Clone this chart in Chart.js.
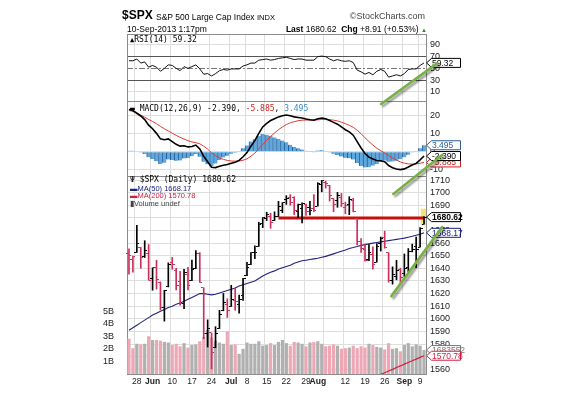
<!DOCTYPE html>
<html><head><meta charset="utf-8">
<script src="https://cdn.jsdelivr.net/npm/chart.js@4.4.0/dist/chart.umd.min.js"></script>
<style>
html,body{margin:0;padding:0;background:#fff;overflow:hidden;}
#wrap{position:relative;width:569px;height:398px;overflow:hidden;font-family:"Liberation Sans",Arial,sans-serif;}
#c{position:absolute;left:0;top:0;}
.t{position:absolute;white-space:nowrap;line-height:1;color:#000;}
.m{font-family:"DejaVu Sans Mono",monospace;font-size:8px;}
</style></head><body>
<div id="wrap">
<canvas id="c" width="569" height="398"></canvas>
<div class="t" style="left:122px;top:9px;font-size:12px;font-weight:bold;">$SPX</div>
<div class="t" style="left:156px;top:12.5px;font-size:8.5px;">S&amp;P 500 Large Cap Index</div>
<div class="t" style="left:257px;top:13.5px;font-size:7.5px;">INDX</div>
<div class="t" style="right:144px;top:12px;font-size:9px;color:#444;">©StockCharts.com</div>
<div class="t" style="left:127px;top:25px;font-size:8.5px;">10-Sep-2013 1:17pm</div>
<div class="t" style="right:142px;top:24.5px;font-size:8.5px;"><b>Last</b> 1680.62 &nbsp;<b>Chg</b> +8.91 (+0.53%) <span style="color:#2a8a2a;font-size:6px;">▲</span></div>
<div class="t m" style="left:130px;top:36px;"><span style="font-size:7px;">▲</span>RSI(14) 59.32</div>
<div class="t m" style="left:130px;top:105px;"><span style="font-weight:bold;">▬</span> MACD(12,26,9) -2.390, <span style="color:#d02020;">-5.885</span>, <span style="color:#3a8ac8;">3.495</span></div>
<div class="t m" style="left:130px;top:176px;">Ψ $SPX (Daily) 1680.62</div>
<div class="t" style="left:130px;top:184.5px;font-size:7.5px;color:#1a237e;">▬MA(50) 1668.17</div>
<div class="t" style="left:130px;top:192px;font-size:7.5px;color:#d02040;">▬MA(200) 1570.78</div>
<div class="t" style="left:130px;top:200px;font-size:7.5px;color:#444;">▮Volume undef</div>
</div>
<script>
const dates = ['May 23','May 24','May 28','May 29','May 30','May 31',
 'Jun 3','Jun 4','Jun 5','Jun 6','Jun 7','Jun 10','Jun 11','Jun 12','Jun 13','Jun 14','Jun 17','Jun 18','Jun 19','Jun 20','Jun 21','Jun 24','Jun 25','Jun 26','Jun 27','Jun 28',
 'Jul 1','Jul 2','Jul 3','Jul 5','Jul 8','Jul 9','Jul 10','Jul 11','Jul 12','Jul 15','Jul 16','Jul 17','Jul 18','Jul 19','Jul 22','Jul 23','Jul 24','Jul 25','Jul 26','Jul 29','Jul 30','Jul 31',
 'Aug 1','Aug 2','Aug 5','Aug 6','Aug 7','Aug 8','Aug 9','Aug 12','Aug 13','Aug 14','Aug 15','Aug 16','Aug 19','Aug 20','Aug 21','Aug 22','Aug 23','Aug 26','Aug 27','Aug 28','Aug 29','Aug 30',
 'Sep 3','Sep 4','Sep 5','Sep 6','Sep 9','Sep 10'];

const tickIdx  = [2,6,11,16,21,26,30,35,40,45,48,55,60,65,70,74];
const tickText = ['28','Jun','10','17','24','Jul','8','15','22','29','Aug','12','19','26','Sep','9'];
const monthTicks = ['Jun','Jul','Aug','Sep'];
const gridIdx  = [2,6,11,16,21,26,30,35,40,45,50,55,60,65,70,74];

const prevClose = 1655.4;
const open = [1651.6,1646.7,1652.6,1656.6,1649.1,1652.1,1631.7,1640.7,1629.1,1609.0,
 1625.3,1644.7,1638.6,1629.9,1612.2,1635.5,1630.6,1639.8,1651.8,1624.6,
 1588.6,1588.8,1577.5,1592.3,1606.4,1611.1,1609.8,1614.3,1611.5,1618.7,
 1634.2,1642.9,1652.3,1657.4,1675.3,1679.6,1681.1,1677.9,1681.1,1686.2,
 1694.4,1696.1,1696.1,1685.2,1687.3,1690.3,1687.9,1687.8,1689.4,1706.1,
 1708.0,1705.8,1695.3,1693.4,1696.1,1688.4,1690.7,1693.9,1679.6,1661.2,
 1655.3,1646.8,1650.7,1645.0,1659.9,1664.3,1652.5,1630.3,1633.5,1638.9,
 1635.9,1640.7,1653.3,1657.4,1656.9,1675.1];
const high = [1655.5,1649.8,1674.2,1656.6,1661.9,1658.9,1640.4,1646.5,1629.3,1622.6,
 1644.4,1648.7,1640.1,1637.7,1639.3,1640.8,1646.5,1654.2,1652.5,1624.6,
 1599.2,1588.8,1593.8,1606.8,1620.1,1615.9,1626.6,1624.3,1618.9,1632.1,
 1644.7,1652.6,1657.9,1676.6,1680.2,1684.5,1683.7,1684.8,1693.1,1692.1,
 1697.6,1698.4,1696.8,1690.9,1691.9,1690.9,1693.2,1698.4,1707.9,1709.7,
 1709.2,1705.8,1695.3,1700.2,1699.4,1692.5,1696.8,1695.5,1679.6,1663.6,
 1659.2,1658.9,1657.0,1659.6,1664.9,1669.5,1652.5,1641.2,1646.4,1640.1,
 1651.4,1655.7,1659.2,1664.8,1672.4,1681.0];
const low = [1635.5,1636.9,1652.6,1640.1,1648.6,1630.7,1622.7,1623.6,1607.1,1598.2,
 1625.3,1639.3,1622.9,1610.9,1608.1,1623.0,1630.3,1639.8,1628.9,1584.3,
 1577.7,1560.3,1577.1,1592.3,1606.4,1601.1,1609.8,1606.8,1604.6,1614.7,
 1634.2,1642.9,1647.7,1657.4,1672.3,1677.9,1671.8,1677.9,1681.1,1684.1,
 1690.7,1690.1,1682.6,1680.2,1676.0,1681.9,1682.4,1684.9,1689.4,1700.7,
 1703.6,1693.3,1684.9,1688.4,1689.0,1683.2,1682.6,1684.8,1658.6,1652.6,
 1645.8,1646.1,1639.4,1645.0,1653.7,1656.0,1629.1,1627.5,1630.9,1628.1,
 1633.4,1637.4,1653.1,1640.6,1656.9,1675.1];
const close = [1650.5,1649.6,1660.1,1648.4,1654.4,1630.7,1640.4,1631.4,1608.9,1622.6,
 1643.4,1642.8,1626.1,1612.5,1636.4,1626.7,1639.0,1651.8,1628.9,1588.2,
 1592.4,1573.1,1588.0,1603.3,1613.2,1606.3,1615.0,1614.1,1615.4,1631.9,
 1640.5,1652.3,1652.6,1675.0,1680.2,1682.5,1676.3,1680.9,1689.4,1692.1,
 1695.5,1692.4,1685.9,1690.3,1691.7,1685.3,1686.0,1685.7,1706.9,1709.7,
 1707.1,1697.4,1690.9,1697.5,1691.4,1689.5,1694.2,1685.4,1661.3,1655.8,
 1646.1,1652.4,1642.8,1657.0,1663.5,1656.8,1630.5,1635.0,1638.2,1633.0,
 1639.8,1653.1,1655.1,1655.2,1671.7,1680.62];
const volume = [2.8,2.05,2.4,2.35,2.4,3.0,2.7,2.7,2.65,2.55,
 2.5,2.3,2.4,2.2,2.45,2.1,2.3,2.35,2.6,2.95,
 3.5,2.9,2.65,2.5,2.4,3.4,2.3,2.35,1.6,2.0,
 2.5,2.4,2.4,2.6,2.25,2.3,2.45,2.3,2.55,2.7,
 2.45,2.25,2.55,2.5,2.4,2.2,2.5,2.55,2.6,2.4,
 2.2,2.25,2.35,2.25,2.0,2.05,2.1,2.25,2.05,2.2,
 2.1,2.4,2.3,2.15,2.1,1.95,2.45,2.0,2.05,1.8,
 2.3,2.45,2.2,2.35,2.25,1.9];
const ma50 = [1591,1593,1595,1597,1599,1601,1603,1604.5,1606,1607.5,
 1609,1610,1611.5,1612.6,1614,1615.5,1617,1618.5,1620,1620,
 1619.5,1619,1619.5,1620.5,1621.5,1622.5,1623.5,1624.5,1626,1627,
 1628,1629,1630,1632,1634,1635.5,1637,1638,1639.5,1640.5,
 1641.5,1642.5,1644,1645,1646,1646.5,1647,1647.5,1648,1648.8,
 1649.5,1650.5,1651.5,1652.5,1653.5,1654.5,1655.8,1656.5,1657.3,1658.2,
 1658.8,1659.4,1660,1660.5,1661,1661.5,1662,1662.5,1663,1663.5,
 1664,1664.7,1665.4,1666.2,1667,1668.17];
const ma200 = [null,null,null,null,null,null,null,null,null,null,
 null,null,null,null,null,null,null,null,null,null,
 null,null,null,null,null,null,null,null,null,null,
 null,null,null,null,null,null,null,null,null,null,
 null,null,null,null,null,null,null,null,null,null,
 null,null,null,null,null,null,null,null,null,null,
 null,null,1553.3,1554.6,1556,1557.3,1558.7,1560,1561.4,1562.7,
 1564.1,1565.4,1566.8,1568.1,1569.5,1570.78];
const rsi = [63,63,66,59,61,52,55,52,45,50,
 56,55,50,46,53,50,53,56,49,40,
 41,37,41,46,48,47,49,49,49,54,
 56,59,59,64,65,66,64,65,67,68,
 69,67,65,66,66,64,64,64,70,71,
 70,66,63,65,63,62,63,60,47,44,
 40,43,39,45,48,45,35,37,39,37,
 41,48,49,49,55,59.32];
const macd = [23,22.5,21,19.5,17.5,14.5,12.5,10,7,6.5,
 7,5.5,4,3,3.2,2.6,2.8,3.6,1.5,-2.5,
 -5.5,-8.5,-8.7,-8,-7.4,-7,-6.3,-5.8,-4.8,-2.8,
 -0.5,3,6,10,13.5,15.5,17,18,19,19.6,
 20,19.6,19,18.7,18.4,17.8,17.4,17.2,18,18.4,
 18,17,16,15,13.5,12,10.8,9,5.5,2,
 -1,-3,-4,-4.8,-5,-5.5,-7.6,-8.8,-9.5,-9.8,
 -9.4,-8.4,-7.3,-6.4,-4.5,-2.39];
const signal = [22.5,22,21,20,18.8,17.6,16.5,15.3,13.8,12.5,
 11.3,10.1,8.9,7.8,6.9,6,5.3,4.9,4.3,3,
 1.4,-0.6,-2.2,-3.4,-4.2,-4.8,-5.1,-5.2,-5.1,-4.7,
 -3.9,-2.5,-0.8,1.5,3.9,6.2,8.3,10.2,12,13.5,
 14.8,15.8,16.4,16.9,17.2,17.3,17.3,17.3,17.4,17.6,
 17.7,17.5,17.2,16.8,16.1,15.3,14.4,13.3,11.7,9.8,
 7.6,5.5,3.6,1.9,0.5,-0.7,-2.1,-3.4,-4.6,-5.6,
 -6.3,-6.7,-6.8,-6.7,-6.3,-5.885];
const hist = [0.5,0.5,0,-0.5,-1.3,-3.1,-4,-5.3,-6.8,-6,
 -4.3,-4.6,-4.9,-4.8,-3.7,-3.4,-2.5,-1.3,-2.8,-5.5,
 -6.9,-7.9,-6.5,-4.6,-3.2,-2.2,-1.2,-0.6,0.3,1.9,
 3.4,5.5,6.8,8.5,9.6,9.3,8.7,7.8,7,6.1,
 5.2,3.8,2.6,1.8,1.2,0.5,0.1,-0.1,0.6,0.8,
 0.3,-0.5,-1.2,-1.8,-2.6,-3.3,-3.6,-4.3,-6.2,-7.8,
 -8.6,-8.5,-7.6,-6.7,-5.5,-4.8,-5.5,-5.4,-4.9,-4.2,
 -3.1,-1.7,-0.5,0.3,1.8,3.495];

const rsiTicks = [10,30,50,70,90];
const macdTicks = [-10,0,10,20];
const priceTicks = [1560,1570,1580,1590,1600,1610,1620,1630,1640,1650,1660,1670,1680,1690,1700,1710];
const volTicks = [1,2,3,4,5];

const supportLevel = 1680;
const supportStart = 38;
const lastVolumeText = '1683552';

// hand-drawn green trend annotations, in data units (index, value)
const trendLines = [
  {axis:'rsi',   x0:64.1, y0:-11,    x1:78.4, y1:59},
  {axis:'price', x0:67.2, y0:1699,   x1:79.6, y1:1729.8},
  {axis:'price', x0:66.7, y0:1618,   x1:79.6, y1:1672.7}
];

const UP='#000000', DOWN='#cc2f5c', VUP='#b0b0b0', VDOWN='#eca9b5';
const isUp = close.map((c,i)=> c >= (i===0 ? prevClose : close[i-1]));
const n = dates.length;
const last = n-1;

function tickImg(color, side){
  const c=document.createElement('canvas'); c.width=5; c.height=1;
  const g=c.getContext('2d'); g.fillStyle=color;
  if(side==='L') g.fillRect(0,0,2,1); else g.fillRect(3,0,2,1);
  return c;
}
const imgs = {OL_up:tickImg(UP,'L'),OL_dn:tickImg(DOWN,'L'),CR_up:tickImg(UP,'R'),CR_dn:tickImg(DOWN,'R')};

const tags = [
  {axis:'rsi',   value:rsi[last],    text:String(rsi[last]),        color:'#000'},
  {axis:'macd',  value:hist[last],   text:hist[last].toFixed(3),    color:'#2a5d95'},
  {axis:'macd',  value:signal[last], text:signal[last].toFixed(3),  color:'#d02020'},
  {axis:'macd',  value:macd[last],   text:macd[last].toFixed(3),    color:'#000'},
  {axis:'price', value:close[last],  text:close[last].toFixed(2),   color:'#000', bold:true},
  {axis:'price', value:ma50[last],   text:ma50[last].toFixed(2),    color:'#1a237e'},
  {axis:'vol',   value:volume[last], text:lastVolumeText,           color:'#777'},
  {axis:'price', value:ma200[last],  text:ma200[last].toFixed(2),   color:'#d02040'}
];

const overlay = {
  id:'overlay',
  afterDraw(chart){
    const g=chart.ctx, a=chart.chartArea, S=chart.scales;
    g.save();
    for(const t of tags){
      const y=S[t.axis].getPixelForValue(t.value);
      const x0=a.right+0.5, w=34, h=9;
      g.beginPath();
      g.moveTo(x0,y); g.lineTo(x0+5,y-h/2); g.lineTo(x0+w,y-h/2); g.lineTo(x0+w,y+h/2); g.lineTo(x0+5,y+h/2); g.closePath();
      g.fillStyle='#fff'; g.fill(); g.lineWidth=1; g.strokeStyle=t.color; g.stroke();
      g.fillStyle=t.color; g.font=(t.bold?'bold ':'')+'8.5px "Liberation Sans", Arial, sans-serif';
      g.textAlign='left'; g.textBaseline='middle'; g.fillText(t.text,x0+5.5,y+0.5);
    }
    g.restore();
    g.save();
    g.lineCap='round'; g.strokeStyle='#78b043'; g.lineWidth=2.6;
    g.shadowColor='rgba(0,0,0,0.4)'; g.shadowOffsetX=2; g.shadowOffsetY=2; g.shadowBlur=2;
    for(const L of trendLines){
      const ys=S[L.axis];
      g.beginPath();
      g.moveTo(S.x.getPixelForValue(L.x0), ys.getPixelForValue(L.y0));
      g.lineTo(S.x.getPixelForValue(L.x1), ys.getPixelForValue(L.y1));
      g.stroke();
    }
    g.restore();
  }
};

Chart.defaults.font.family='"Liberation Sans", Arial, sans-serif';
Chart.defaults.font.size=9;
Chart.defaults.color='#333';

function yAxis(min,max,list,weight){
  return {
    type:'linear', position:'right', stack:'panels', stackWeight:weight, min:min, max:max,
    afterBuildTicks:s=>{ s.ticks=[{value:min}].concat(list.map(v=>({value:v})),[{value:max}]); },
    afterFit:s=>{ s.width=143; },
    grid:{drawTicks:false, color:c=>(c.tick&&(c.tick.value===min||c.tick.value===max))?'#8c8c8c':'#dedede'},
    border:{display:true,color:'#8c8c8c'},
    ticks:{autoSkip:false, padding:4,color:'#222',callback:v=>(v===min||v===max)?'':String(v)}
  };
}

const rsiAxis = yAxis(-7.1,108.8,rsiTicks,67.7);
rsiAxis.grid.color = c=>{ if(!c.tick) return '#dedede'; const v=c.tick.value;
  if(v===-7.1||v===108.8) return '#8c8c8c'; if(v===30||v===70) return '#555'; if(v===50) return '#777'; return '#dedede'; };
rsiAxis.border.dash = c=> (c.tick && c.tick.value===50) ? [6,2,2,2] : [];

new Chart(document.getElementById('c'),{
  type:'bar',
  data:{labels:dates, datasets:[
    {type:'bar', label:'Highlight', yAxisID:'price', grouped:false, order:30,
     data:dates.map((d,i)=> i===last ? [low[last]-0.6, high[last]+6] : null),
     backgroundColor:'rgba(245,222,100,0.85)', barThickness:6},
    {type:'bar', label:'Volume', yAxisID:'vol', grouped:false, order:20, data:volume,
     backgroundColor:isUp.map(u=>u?VUP:VDOWN), barPercentage:0.82, categoryPercentage:1},
    {type:'bar', label:'Hist', yAxisID:'macd', grouped:false, order:15, data:hist,
     backgroundColor:'#5fa8de', borderColor:'#215f9e', borderWidth:{left:1,right:0,top:0,bottom:0},
     barPercentage:1, categoryPercentage:1},
    {type:'line', label:'MA200', yAxisID:'price', order:9, data:ma200, borderColor:'#d02040', borderWidth:1.2, pointRadius:0},
    {type:'line', label:'MA50', yAxisID:'price', order:8, data:ma50, borderColor:'#23237a', borderWidth:1.1, pointRadius:0},
    {type:'line', label:'Support', yAxisID:'price', order:7, data:dates.map((d,i)=> i>=supportStart ? supportLevel : null),
     borderColor:'#c40f0f', borderWidth:3, pointRadius:0},
    {type:'bar', label:'Range', yAxisID:'price', grouped:false, order:5,
     data:low.map((l,i)=>[l,high[i]]), backgroundColor:isUp.map(u=>u?UP:DOWN), barThickness:1},
    {type:'line', label:'Open', yAxisID:'price', order:4, data:open, showLine:false, pointRadius:2,
     pointStyle:c=> isUp[c.dataIndex]?imgs.OL_up:imgs.OL_dn},
    {type:'line', label:'Close', yAxisID:'price', order:4, data:close, showLine:false, pointRadius:2,
     pointStyle:c=> isUp[c.dataIndex]?imgs.CR_up:imgs.CR_dn},
    {type:'line', label:'Signal', yAxisID:'macd', order:3, data:signal, borderColor:'#e03a30', borderWidth:1, pointRadius:0},
    {type:'line', label:'MACD', yAxisID:'macd', order:2, data:macd, borderColor:'#000', borderWidth:1.6, pointRadius:0},
    {type:'line', label:'RSI', yAxisID:'rsi', order:2, data:rsi, borderColor:'#111', borderWidth:1, pointRadius:0}
  ]},
  options:{
    responsive:false, animation:false, events:[],
    layout:{padding:{top:34,left:0,right:0,bottom:0}},
    plugins:{legend:{display:false}, tooltip:{enabled:false}},
    scales:{
      x:{type:'category', offset:true,
        afterFit:s=>{ s.height=24; },
        grid:{offset:true, drawTicks:false, color:c=> gridIdx.includes(c.index)?'#dedede':'rgba(0,0,0,0)'},
        border:{display:true,color:'#8c8c8c'},
        ticks:{autoSkip:false, maxRotation:0, minRotation:0, padding:3, color:'#222',
          font:c=>{ const k=tickIdx.indexOf(c.index); const t=k>=0?tickText[k]:''; return {size:8.5, weight: monthTicks.includes(t)?'bold':'normal'}; },
          callback:(v,i)=>{ const k=tickIdx.indexOf(i); return k>=0?tickText[k]:''; }}
      },
      vol:{type:'linear', position:'left', min:0, max:27,
        afterBuildTicks:s=>{ s.ticks=volTicks.map(v=>({value:v})); },
        afterFit:s=>{ s.width=127; },
        grid:{display:false}, border:{display:true,color:'#8c8c8c'},
        ticks:{autoSkip:false, padding:5,color:'#222',callback:v=>v+'B'}},
      rsi: rsiAxis,
      macd: yAxis(-13.3,27.3,macdTicks,74.3),
      price: yAxis(1556.3,1713.2,priceTicks,198)
    }
  },
  plugins:[overlay]
});
</script>
</body></html>
